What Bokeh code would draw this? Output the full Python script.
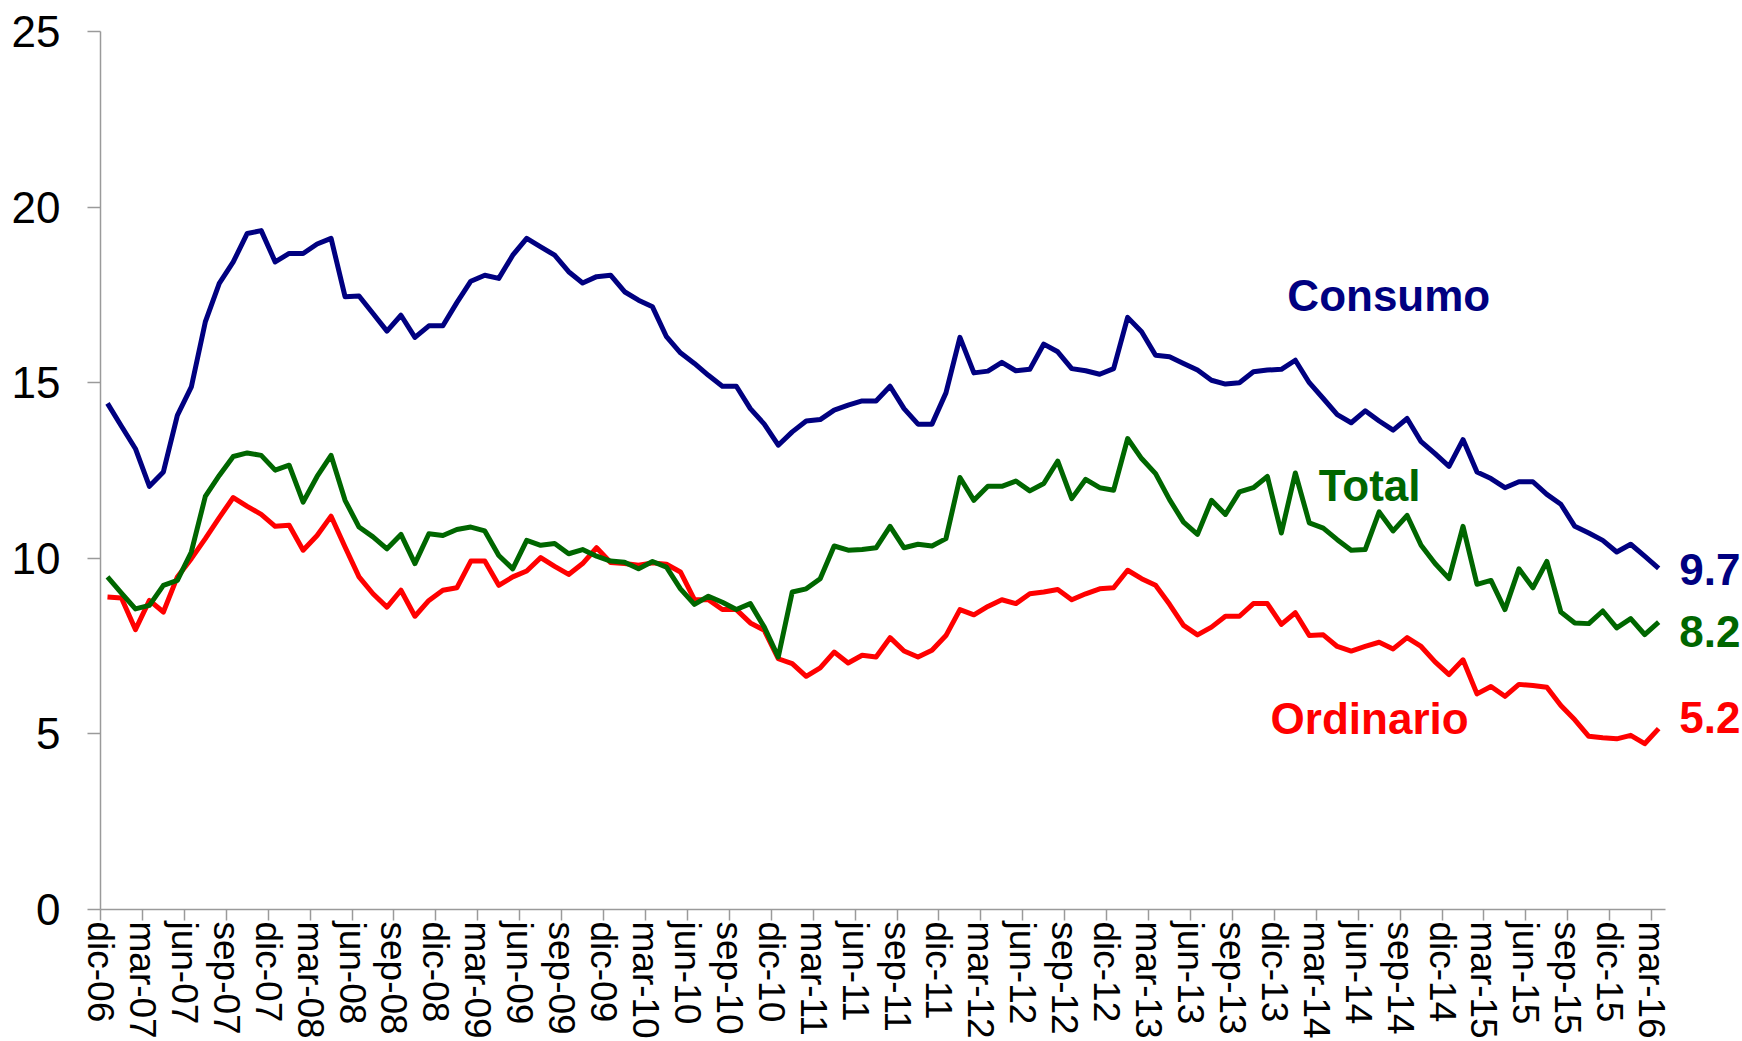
from bokeh.plotting import figure
from bokeh.models import Range1d, FixedTicker, Label
from bokeh.embed import file_html
from bokeh.resources import INLINE

# Monthly series, dic-06 .. mar-16 (112 months)
consumo = [14.41, 13.76, 13.12, 12.05, 12.46, 14.07, 14.88, 16.73, 17.83, 18.44,
           19.25, 19.33, 18.44, 18.68, 18.68, 18.95, 19.11, 17.45, 17.47, 16.97,
           16.47, 16.92, 16.29, 16.62, 16.62, 17.28, 17.89, 18.06, 17.97, 18.63,
           19.11, 18.87, 18.63, 18.16, 17.84, 18.02, 18.06, 17.59, 17.35, 17.16,
           16.31, 15.85, 15.55, 15.21, 14.90, 14.90, 14.26, 13.82, 13.22, 13.60,
           13.91, 13.95, 14.22, 14.36, 14.48, 14.48, 14.90, 14.26, 13.82, 13.82,
           14.71, 16.29, 15.28, 15.33, 15.58, 15.34, 15.38, 16.10, 15.88, 15.40,
           15.34, 15.24, 15.40, 16.86, 16.45, 15.78, 15.74, 15.55, 15.36, 15.07,
           14.96, 15.00, 15.31, 15.36, 15.38, 15.64, 15.00, 14.55, 14.09, 13.86,
           14.20, 13.91, 13.65, 13.98, 13.32, 12.98, 12.62, 13.38, 12.46, 12.27,
           12.01, 12.18, 12.18, 11.82, 11.54, 10.91, 10.72, 10.51, 10.18, 10.40,
           10.06, 9.71]

total = [9.47, 9.01, 8.56, 8.66, 9.23, 9.37, 10.18, 11.76, 12.36, 12.90,
         13.00, 12.93, 12.51, 12.65, 11.60, 12.33, 12.93, 11.65, 10.89, 10.61,
         10.27, 10.68, 9.85, 10.70, 10.65, 10.82, 10.89, 10.78, 10.08, 9.70,
         10.51, 10.37, 10.42, 10.13, 10.25, 10.06, 9.92, 9.89, 9.70, 9.91,
         9.75, 9.13, 8.69, 8.92, 8.75, 8.54, 8.71, 8.04, 7.19, 9.04,
         9.13, 9.42, 10.35, 10.23, 10.25, 10.30, 10.91, 10.30, 10.40, 10.35,
         10.56, 12.30, 11.65, 12.05, 12.05, 12.20, 11.92, 12.13, 12.77, 11.70,
         12.25, 12.01, 11.94, 13.41, 12.84, 12.41, 11.67, 11.03, 10.68, 11.65,
         11.25, 11.89, 12.01, 12.33, 10.72, 12.43, 11.01, 10.86, 10.53, 10.23,
         10.25, 11.32, 10.78, 11.22, 10.37, 9.85, 9.42, 10.91, 9.26, 9.37,
         8.54, 9.70, 9.16, 9.91, 8.47, 8.16, 8.14, 8.50, 8.02, 8.28,
         7.83, 8.18]

ordinario = [8.90, 8.87, 7.97, 8.80, 8.47, 9.47, 9.99, 10.56, 11.16, 11.73,
             11.48, 11.25, 10.91, 10.94, 10.23, 10.65, 11.20, 10.32, 9.47, 8.99,
             8.61, 9.09, 8.35, 8.80, 9.09, 9.16, 9.92, 9.92, 9.23, 9.47,
             9.64, 10.02, 9.77, 9.54, 9.85, 10.30, 9.88, 9.85, 9.80, 9.87,
             9.83, 9.61, 8.82, 8.82, 8.54, 8.54, 8.16, 7.95, 7.14, 7.00,
             6.64, 6.88, 7.33, 7.02, 7.24, 7.19, 7.74, 7.36, 7.19, 7.38,
             7.80, 8.54, 8.39, 8.63, 8.82, 8.71, 8.99, 9.04, 9.11, 8.82,
             8.99, 9.13, 9.16, 9.66, 9.42, 9.23, 8.69, 8.09, 7.82, 8.04,
             8.35, 8.35, 8.71, 8.71, 8.12, 8.45, 7.80, 7.82, 7.49, 7.36,
             7.49, 7.61, 7.42, 7.74, 7.49, 7.05, 6.69, 7.11, 6.14, 6.35,
             6.07, 6.41, 6.38, 6.33, 5.81, 5.40, 4.93, 4.89, 4.86, 4.96,
             4.72, 5.15]

tick_labels = ["dic-06", "mar-07", "jun-07", "sep-07", "dic-07", "mar-08", "jun-08",
               "sep-08", "dic-08", "mar-09", "jun-09", "sep-09", "dic-09", "mar-10",
               "jun-10", "sep-10", "dic-10", "mar-11", "jun-11", "sep-11", "dic-11",
               "mar-12", "jun-12", "sep-12", "dic-12", "mar-13", "jun-13", "sep-13",
               "dic-13", "mar-14", "jun-14", "sep-14", "dic-14", "mar-15", "jun-15",
               "sep-15", "dic-15", "mar-16"]

series_names = ["Consumo", "Total", "Ordinario"]
end_labels = ["9.7", "8.2", "5.2"]

n = len(consumo)
xs = [i + 0.5 for i in range(n)]
ticks = list(range(0, n, 3))

FONT = "Liberation Sans"
BLUE, GREEN, RED = "#000080", "#006600", "#FF0000"
AXIS_COLOR = "#9a9a9a"

# frame spans to the right edge so the end labels sit inside it;
# the x axis itself is bounded to the data months
p = figure(width=1742, height=1041, output_backend="svg", toolbar_location=None,
           x_range=Range1d(0, 117.5), y_range=Range1d(0, 25),
           min_border_left=100, min_border_right=0, min_border_top=31,
           min_border_bottom=132)
p.outline_line_color = None
p.background_fill_color = "white"
p.border_fill_color = "white"
p.xgrid.visible = False
p.ygrid.visible = False

for ys, c in [(ordinario, RED), (total, GREEN), (consumo, BLUE)]:
    p.line(xs, ys, line_color=c, line_width=5, line_join="round")

# x axis
xa = p.xaxis[0]
xa.bounds = (0, n)
xa.ticker = FixedTicker(ticks=ticks)
xa.major_label_overrides = {t: lab for t, lab in zip(ticks, tick_labels)}
xa.major_label_orientation = "vertical"
xa.major_label_text_font = FONT
xa.major_label_text_font_size = "37px"
xa.major_label_text_color = "black"
xa.major_label_standoff = 1
xa.major_tick_in = 0
xa.major_tick_out = 11
xa.minor_tick_line_color = None
xa.axis_line_color = AXIS_COLOR
xa.axis_line_width = 1.5
xa.major_tick_line_color = AXIS_COLOR
xa.major_tick_line_width = 1.5

# y axis
ya = p.yaxis[0]
ya.ticker = FixedTicker(ticks=[0, 5, 10, 15, 20, 25])
ya.major_label_text_font = FONT
ya.major_label_text_font_size = "44px"
ya.major_label_text_color = "black"
ya.major_label_standoff = 27
ya.major_tick_in = 0
ya.major_tick_out = 13
ya.minor_tick_line_color = None
ya.axis_line_color = AXIS_COLOR
ya.axis_line_width = 1.5
ya.major_tick_line_color = AXIS_COLOR
ya.major_tick_line_width = 1.5

# series names
name_pos = [(84.93, 17.49), (87.17, 12.07), (83.73, 5.43)]
for name, (lx, ly), c in zip(series_names, name_pos, [BLUE, GREEN, RED]):
    p.add_layout(Label(x=lx, y=ly, text=name, text_font=FONT, text_font_style="bold",
                       text_font_size="44px", text_color=c, text_baseline="middle",
                       text_align="left"))

# end values
end_y = [9.69, 7.92, 5.47]
for lab, ly, c in zip(end_labels, end_y, [BLUE, GREEN, RED]):
    p.add_layout(Label(x=117.35, y=ly, text=lab, text_font=FONT, text_font_style="bold",
                       text_font_size="44px", text_color=c, text_baseline="middle",
                       text_align="right"))

open("out.html", "w").write(file_html(p, INLINE))
